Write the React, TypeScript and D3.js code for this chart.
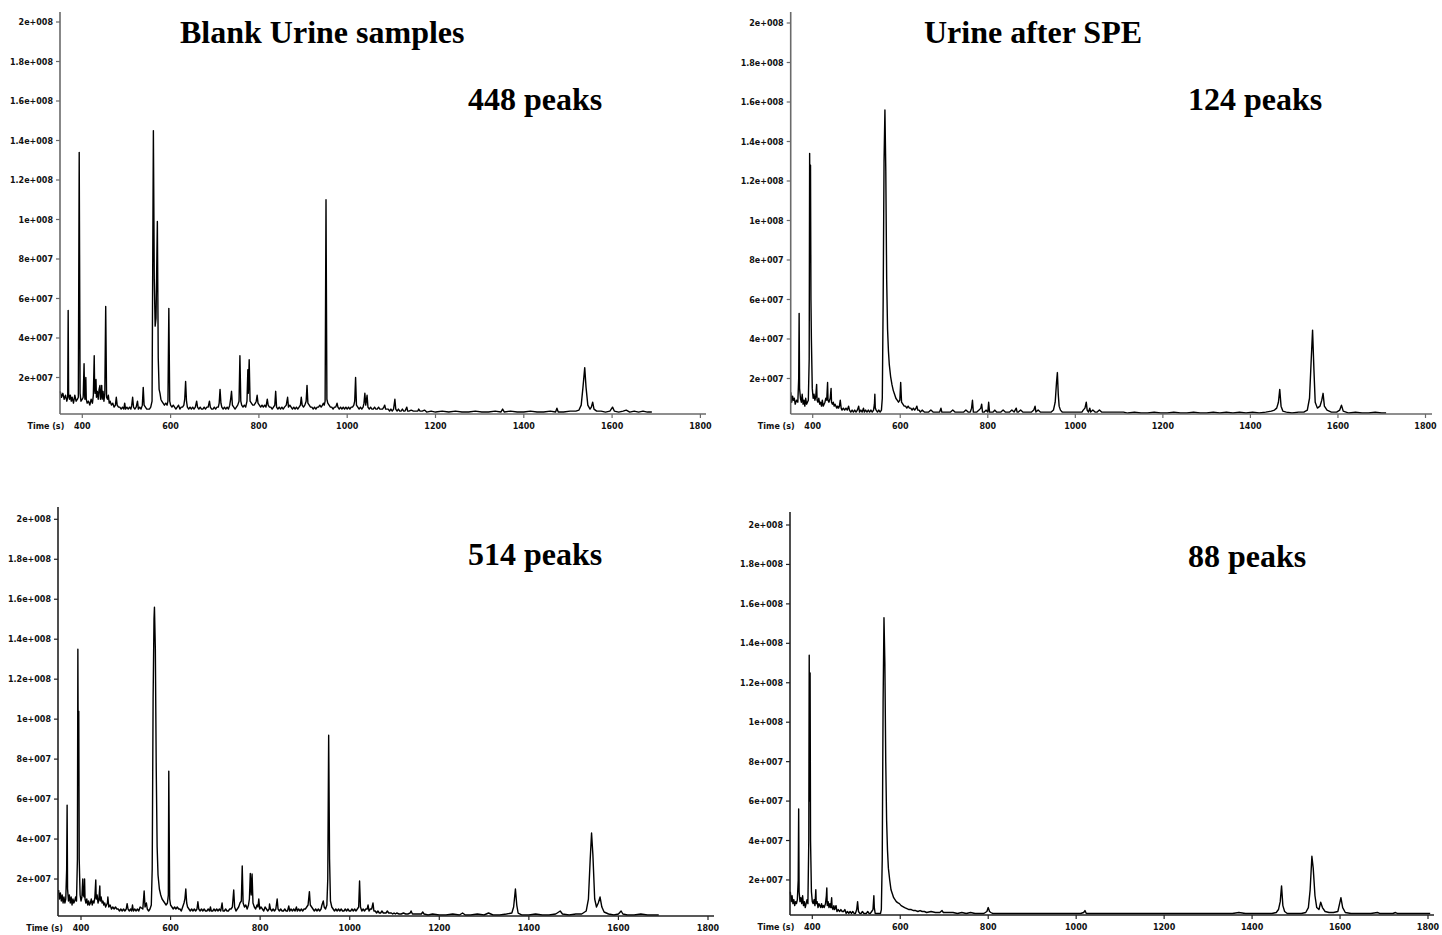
import React from 'react';
import * as d3 from 'd3';

type Pt = [number, number];

// Axis ticks
const X_TICKS = [400, 600, 800, 1000, 1200, 1400, 1600, 1800];
const Y_TICKS = [2e7, 4e7, 6e7, 8e7, 1e8, 1.2e8, 1.4e8, 1.6e8, 1.8e8, 2e8];
const Y_TICK_LABELS = ['2e+007', '4e+007', '6e+007', '8e+007', '1e+008', '1.2e+008', '1.4e+008', '1.6e+008', '1.8e+008', '2e+008'];

// Chromatogram traces: [time (s), intensity in units of 1e6]
const blankUrineA: Pt[] = [
  [350, 13], [353, 10], [356, 12], [359, 9], [362, 11], [365, 8], [367, 10], [368, 54], [369, 12], [371, 9], [373, 11], [375, 8], [377, 10], [380, 7], [383, 11], [386, 8], [389, 9], [391, 10], [393, 134], [395, 12], [397, 8], [400, 9], [402, 10], [404, 27], [405, 12], [406, 9], [408, 20], [409, 9], [411, 7], [414, 8], [417, 6], [420, 9], [423, 7], [425, 11], [427, 31], [428, 14], [429, 12], [431, 19], [432, 10], [434, 13], [436, 9], [438, 14], [440, 16], [441, 9], [443, 12], [444, 16], [445, 9], [447, 13], [449, 8], [451, 12], [453, 56], [455, 10], [457, 9], [459, 11], [461, 7], [463, 8], [466, 6], [469, 7], [472, 5], [475, 6], [477, 10], [479, 6], [482, 5], [485, 5], [488, 4], [491, 5], [494, 4], [496, 7], [498, 4], [501, 5], [504, 4], [507, 5], [510, 4], [512, 6], [514, 10], [516, 5], [519, 4], [522, 5], [525, 8], [527, 4], [530, 5], [533, 4], [536, 6], [538, 15], [540, 6], [543, 5], [546, 4], [549, 4], [552, 4], [555, 5], [558, 8], [561, 145], [563, 70], [565, 46], [567, 50], [570, 99], [572, 30], [574, 14], [576, 12], [578, 9], [580, 8], [583, 7], [586, 6], [589, 7], [592, 6], [594, 8], [596, 55], [598, 8], [600, 6], [603, 5], [606, 6], [609, 5], [612, 4], [615, 5], [618, 6], [621, 4], [624, 5], [627, 5], [630, 6], [632, 9], [634, 18], [636, 8], [638, 5], [641, 4], [644, 5], [647, 4], [650, 5], [653, 4], [656, 5], [659, 8], [661, 5], [664, 4], [667, 5], [670, 4], [673, 4], [676, 5], [679, 4], [682, 5], [685, 5], [688, 8], [690, 5], [693, 4], [696, 4], [699, 5], [702, 4], [705, 5], [708, 5], [710, 7], [712, 14], [714, 7], [716, 5], [719, 4], [722, 5], [725, 4], [728, 5], [731, 4], [734, 6], [736, 9], [738, 13], [740, 6], [743, 5], [746, 4], [749, 5], [752, 6], [755, 8], [757, 31], [759, 8], [761, 6], [764, 5], [767, 6], [770, 5], [773, 8], [775, 24], [776, 12], [778, 29], [780, 8], [783, 7], [786, 6], [789, 6], [792, 7], [794, 8], [796, 11], [798, 7], [801, 6], [804, 5], [807, 6], [810, 5], [813, 6], [816, 5], [819, 9], [821, 6], [824, 5], [827, 5], [830, 4], [833, 5], [836, 6], [838, 13], [840, 5], [843, 4], [846, 5], [849, 4], [852, 5], [855, 4], [858, 5], [862, 6], [865, 10], [867, 5], [870, 6], [873, 5], [876, 4], [879, 5], [882, 4], [885, 5], [888, 4], [891, 5], [894, 6], [896, 10], [898, 6], [901, 5], [904, 6], [907, 8], [909, 16], [911, 7], [914, 6], [917, 5], [920, 5], [923, 4], [926, 5], [929, 4], [932, 5], [935, 5], [938, 6], [941, 5], [944, 6], [946, 7], [948, 6], [950, 8], [952, 110], [954, 9], [956, 7], [959, 6], [962, 5], [965, 5], [968, 4], [971, 5], [974, 5], [977, 7], [979, 5], [982, 4], [985, 5], [988, 4], [991, 5], [994, 4], [997, 5], [1000, 4], [1003, 5], [1006, 4], [1009, 5], [1012, 5], [1015, 6], [1017, 8], [1019, 20], [1021, 6], [1024, 5], [1027, 4], [1030, 5], [1033, 4], [1036, 5], [1038, 7], [1040, 12], [1042, 6], [1045, 11], [1047, 5], [1050, 4], [1053, 5], [1056, 4], [1059, 4], [1062, 5], [1065, 4], [1068, 4], [1071, 5], [1074, 4], [1077, 4], [1080, 4], [1083, 5], [1085, 6], [1087, 4], [1090, 4], [1093, 4], [1096, 3], [1099, 4], [1102, 3], [1105, 4], [1108, 9], [1110, 4], [1113, 3], [1116, 4], [1119, 3], [1122, 3], [1125, 4], [1128, 3], [1131, 3], [1135, 5], [1137, 3], [1140, 3], [1145, 3.5], [1150, 3], [1155, 3], [1160, 3], [1162, 4], [1165, 3], [1170, 3], [1175, 3.5], [1180, 2.5], [1190, 3], [1200, 2.5], [1215, 3], [1230, 2.5], [1245, 3], [1260, 2.5], [1275, 2.5], [1290, 3], [1305, 2.5], [1320, 2.5], [1335, 3], [1348, 2.5], [1352, 4], [1356, 2.5], [1370, 3], [1385, 2.5], [1400, 2.5], [1415, 3], [1430, 2.5], [1445, 2.5], [1460, 3], [1472, 2.5], [1475, 4.5], [1478, 2.5], [1490, 2.5], [1505, 3], [1518, 3], [1525, 3.5], [1530, 6], [1534, 15], [1538, 25], [1541, 15], [1545, 6], [1550, 4], [1553, 5], [1556, 7.5], [1559, 4], [1565, 3], [1575, 3], [1585, 2.5], [1595, 3], [1601, 5], [1605, 3], [1615, 2.5], [1625, 3], [1632, 3.5], [1640, 2.5], [1650, 3], [1660, 2.5], [1670, 3], [1680, 2.5], [1690, 2.5],
];

const speUrineA: Pt[] = [
  [350, 13], [352, 8], [354, 11], [356, 9], [358, 10], [360, 7], [363, 9], [366, 8], [368, 20], [369, 53], [370, 15], [372, 10], [374, 8], [376, 12], [378, 7], [380, 9], [382, 6], [384, 10], [386, 7], [388, 8], [390, 9], [392, 30], [393, 134], [394, 100], [395, 128], [396, 60], [397, 40], [399, 15], [401, 10], [403, 12], [405, 9], [407, 11], [409, 17], [410, 9], [412, 8], [414, 10], [416, 7], [418, 8], [420, 6], [422, 9], [424, 6], [426, 7], [428, 8], [430, 10], [432, 9], [434, 18], [435, 9], [437, 8], [440, 10], [442, 15], [443, 8], [445, 7], [447, 8], [449, 6], [451, 7], [453, 6], [455, 5], [457, 6], [459, 5], [461, 6], [463, 9], [465, 5], [467, 4], [470, 5], [473, 4], [476, 5], [479, 4], [482, 6], [484, 4], [487, 3], [490, 4], [493, 3], [496, 4], [499, 3], [502, 4], [505, 6], [507, 3], [510, 4], [513, 3], [516, 5], [518, 3], [521, 4], [524, 3], [527, 4], [530, 3], [533, 4], [536, 3], [539, 4], [541, 7], [542, 12], [543, 5], [545, 4], [548, 3], [551, 4], [554, 3], [557, 4], [559, 10], [561, 60], [563, 130], [565, 156], [567, 125], [569, 70], [571, 45], [573, 34], [575, 27], [578, 21], [581, 17], [584, 14], [587, 12], [590, 10], [593, 9], [596, 8], [599, 9], [601, 18], [603, 8], [606, 7], [609, 6], [612, 6], [615, 5], [618, 6], [621, 5], [624, 5], [627, 4], [630, 5], [633, 4], [636, 5], [638, 6], [640, 4], [643, 4], [646, 3], [650, 4], [655, 3], [660, 3], [665, 3], [670, 4], [675, 3], [680, 3], [685, 3], [690, 3], [693, 5], [695, 3], [700, 3], [705, 3], [710, 3], [715, 3], [720, 4], [725, 3], [730, 3], [735, 3], [740, 3], [745, 3], [750, 4], [755, 3], [760, 3], [763, 5], [765, 9], [767, 3], [770, 3], [775, 3], [780, 4], [784, 5], [786, 7], [788, 3], [792, 3], [796, 4], [800, 3], [802, 8], [804, 3], [808, 3], [812, 3], [816, 4], [820, 3], [825, 3], [830, 3], [835, 4], [840, 3], [845, 3], [850, 3], [855, 4], [860, 3], [865, 5], [867, 3], [870, 3], [875, 4], [880, 3], [885, 3], [890, 3], [895, 3], [900, 3], [905, 4], [908, 6], [910, 3], [915, 4], [920, 3], [925, 3], [930, 3], [935, 3], [940, 3], [945, 3], [950, 4], [954, 8], [957, 18], [959, 23], [961, 12], [963, 6], [966, 4], [970, 3], [975, 3], [980, 3], [985, 3], [990, 3], [995, 3], [1000, 3], [1005, 3], [1010, 3], [1015, 3], [1018, 4], [1022, 5], [1025, 8], [1027, 4], [1030, 3], [1033, 5], [1035, 3], [1040, 4], [1045, 3], [1050, 3], [1055, 4], [1060, 3], [1065, 3], [1070, 3], [1080, 3], [1090, 3], [1100, 3], [1110, 3], [1120, 2.5], [1135, 3], [1150, 2.5], [1165, 2.5], [1180, 3], [1195, 2.5], [1210, 2.5], [1225, 3], [1240, 2.5], [1255, 2.5], [1270, 3], [1285, 2.5], [1300, 2.5], [1315, 3], [1330, 2.5], [1345, 3], [1360, 2.5], [1375, 3], [1390, 2.5], [1405, 3], [1420, 2.5], [1435, 3], [1448, 3.5], [1455, 4], [1460, 5], [1464, 8], [1467, 14.5], [1470, 6], [1474, 3.5], [1482, 3], [1495, 2.5], [1510, 3], [1522, 3], [1530, 4], [1535, 10], [1539, 30], [1542, 44.5], [1545, 25], [1548, 8], [1553, 5], [1559, 6], [1563, 9], [1566, 12.5], [1569, 6], [1575, 4], [1585, 3], [1597, 3], [1604, 4], [1608, 6.5], [1612, 3.5], [1625, 2.5], [1640, 3], [1655, 2.5], [1670, 2.5], [1685, 3], [1700, 2.5], [1710, 2.5],
];

const blankUrineB: Pt[] = [
  [350, 14.5], [352, 10], [354, 13], [356, 9], [358, 12], [360, 8], [362, 11], [364, 8], [366, 10], [368, 25], [369, 57], [370, 15], [372, 9], [374, 12], [376, 8], [378, 11], [380, 7], [382, 10], [384, 8], [386, 9], [388, 11], [390, 9], [392, 30], [393, 135], [394, 70], [395, 104], [396, 30], [398, 12], [400, 9], [402, 11], [404, 20], [405, 12], [407, 11], [408, 20], [409, 10], [411, 8], [413, 10], [415, 7], [417, 9], [419, 7], [421, 8], [423, 10], [425, 7], [427, 9], [429, 8], [431, 11], [433, 19.5], [434, 10], [436, 12], [438, 8], [440, 10], [442, 16.5], [443, 9], [445, 11], [447, 8], [449, 9], [451, 7], [453, 8], [455, 6], [457, 7], [459, 8], [460, 11], [462, 6], [465, 7], [468, 5], [471, 6], [474, 5], [477, 6], [480, 5], [483, 5], [486, 4], [489, 5], [492, 4], [495, 5], [498, 4], [501, 5], [503, 7.7], [505, 5], [508, 4], [511, 5], [513, 4], [515, 7], [517, 4], [520, 5], [523, 4], [526, 5], [529, 4], [532, 6], [538, 5], [541, 14], [543, 6], [546, 8], [548, 5], [551, 4], [554, 5], [557, 7], [559, 25], [561, 110], [563, 150], [564, 156], [566, 135], [568, 75], [570, 36], [572, 22], [575, 15], [578, 12], [581, 10], [584, 9], [587, 8], [590, 7], [593, 8], [595, 12], [596, 74], [598, 10], [600, 7], [603, 6], [606, 5], [609, 6], [612, 5], [615, 6], [618, 5], [621, 5], [624, 4], [627, 6], [630, 8], [632, 10], [634, 15], [636, 8], [638, 6], [641, 5], [644, 4], [647, 5], [650, 4], [653, 5], [656, 4], [659, 5], [661, 8.6], [663, 5], [666, 4], [669, 5], [672, 4], [675, 5], [678, 4], [681, 4], [684, 5], [687, 4], [689, 6], [691, 4], [694, 4], [697, 5], [700, 4], [703, 5], [706, 4], [709, 5], [712, 4], [715, 8], [717, 4], [720, 4], [723, 5], [726, 4], [729, 4], [732, 5], [735, 5], [738, 6], [741, 14.5], [743, 6], [746, 4], [749, 5], [752, 6], [755, 8], [758, 9], [760, 26.5], [762, 8], [765, 6], [768, 7], [771, 5], [774, 7], [776, 10], [778, 22.8], [780, 12], [782, 22.5], [784, 8], [787, 6], [790, 5], [793, 7], [795, 6], [797, 10], [799, 5], [802, 6], [805, 5], [808, 4], [811, 6], [814, 5], [817, 4], [820, 5], [821, 7.5], [823, 5], [826, 4], [829, 5], [832, 4], [835, 5], [838, 10], [840, 5], [843, 4], [846, 5], [849, 4], [852, 4], [855, 5], [858, 4], [861, 4], [864, 6.5], [866, 4], [869, 5], [872, 4], [875, 5], [878, 4], [881, 6], [883, 4], [886, 5], [889, 4], [892, 5], [895, 4], [898, 5], [901, 5], [904, 6], [907, 7], [910, 13.7], [912, 7], [915, 6], [918, 5], [921, 4], [924, 5], [927, 4], [930, 5], [933, 4], [936, 5], [938, 7], [941, 9], [943, 6], [946, 5], [949, 7], [951, 20], [953, 92], [955, 30], [957, 9], [960, 6], [963, 5], [966, 4], [969, 5], [972, 4], [975, 5], [978, 4], [981, 5], [984, 4], [987, 4], [990, 5], [993, 4], [996, 5], [999, 4], [1002, 4], [1005, 5], [1008, 4], [1011, 5], [1014, 4], [1017, 5], [1020, 6], [1022, 19], [1024, 6], [1027, 4], [1030, 5], [1033, 4], [1036, 5], [1039, 5], [1041, 7], [1043, 4], [1046, 5], [1049, 5], [1052, 8], [1054, 4], [1057, 4], [1060, 3], [1063, 4], [1066, 3], [1069, 3], [1072, 4], [1075, 3], [1078, 3], [1081, 3], [1084, 4], [1087, 3], [1090, 3], [1093, 3], [1096, 2.5], [1099, 3], [1102, 2.5], [1105, 3], [1110, 2.5], [1115, 2.5], [1120, 3], [1125, 2.5], [1130, 2.5], [1135, 3], [1137, 4], [1140, 2.5], [1145, 2.5], [1150, 2.5], [1155, 2.5], [1160, 2.5], [1163, 3.5], [1166, 2.5], [1175, 2], [1185, 2.5], [1200, 2], [1215, 2], [1230, 2.5], [1245, 2], [1252, 3], [1258, 2], [1270, 2], [1285, 2.5], [1300, 2], [1310, 3], [1320, 2], [1335, 2], [1350, 2.5], [1362, 3], [1366, 6], [1370, 15], [1373, 7], [1376, 3], [1385, 2], [1400, 2], [1415, 2.5], [1430, 2], [1445, 2], [1460, 2.5], [1470, 4], [1475, 2.5], [1490, 2], [1505, 2.5], [1518, 2.5], [1528, 4], [1533, 10], [1537, 30], [1540, 43], [1543, 32], [1547, 10], [1551, 6], [1555, 8], [1559, 11], [1563, 6], [1568, 3.5], [1578, 2.5], [1590, 2], [1600, 2.5], [1606, 4], [1610, 2.5], [1620, 2], [1635, 2], [1650, 2.5], [1665, 2], [1680, 2], [1690, 2],
];

const speUrineB: Pt[] = [
  [350, 14], [352, 9], [354, 12], [356, 8], [358, 10], [360, 7], [362, 9], [364, 8], [366, 10], [368, 20], [369, 56], [370, 14], [372, 9], [374, 11], [376, 8], [378, 12], [380, 7], [382, 9], [384, 6], [386, 8], [388, 10], [390, 8], [392, 40], [393, 134], [394, 60], [395, 125], [396, 40], [398, 14], [400, 9], [402, 8], [404, 10], [406, 7], [408, 15], [409, 8], [411, 9], [413, 6], [415, 8], [417, 7], [419, 6], [421, 8], [423, 6], [425, 7], [427, 6], [430, 8], [432, 12], [433, 16], [434, 7], [436, 9], [438, 6], [440, 8], [442, 6], [444, 11], [445, 6], [447, 5], [449, 7], [451, 5], [454, 7], [456, 4], [459, 5], [462, 4], [465, 5], [468, 4], [471, 4], [474, 5], [477, 3], [480, 4], [483, 3], [486, 4], [489, 3], [492, 4], [495, 3], [498, 3], [501, 5], [503, 9], [505, 4], [508, 3], [511, 3], [514, 4], [517, 3], [520, 3], [523, 3], [526, 4], [529, 3], [532, 3], [535, 4], [538, 5], [540, 12], [541, 6], [543, 3], [546, 3], [549, 3], [552, 3], [555, 3], [557, 5], [559, 30], [561, 110], [563, 153], [565, 130], [567, 80], [569, 50], [571, 35], [573, 26], [576, 20], [579, 15], [582, 13], [585, 11], [588, 10], [591, 9], [594, 8.5], [598, 8], [602, 7], [606, 6.5], [610, 6], [615, 5.5], [620, 5], [625, 5], [630, 4.5], [635, 4.5], [640, 4], [645, 4.5], [650, 4], [655, 4], [660, 3.5], [670, 4], [680, 3.5], [690, 3.5], [695, 4.5], [698, 3.5], [710, 3.5], [720, 3.5], [730, 3], [740, 3.5], [750, 3], [760, 3.5], [770, 3], [780, 3], [790, 3], [797, 4], [800, 6], [803, 4], [806, 3.5], [810, 3], [815, 3], [820, 3], [830, 3], [840, 3], [850, 3], [860, 3], [870, 3], [880, 3], [890, 3], [900, 3], [910, 3], [920, 3], [930, 3], [940, 3], [950, 3], [960, 3], [970, 3], [980, 3], [990, 3], [1000, 3], [1010, 3], [1017, 3.5], [1020, 4.5], [1023, 3], [1035, 3], [1050, 3], [1065, 3], [1080, 3], [1100, 3], [1120, 3], [1140, 3], [1160, 3], [1180, 3], [1200, 3], [1220, 3], [1240, 3], [1260, 3], [1280, 3], [1300, 3], [1320, 3], [1340, 3], [1355, 3], [1370, 3.5], [1385, 3], [1400, 3], [1415, 3], [1430, 3], [1445, 3], [1455, 3.5], [1460, 5], [1464, 9], [1467, 17], [1470, 7], [1474, 4], [1480, 3], [1490, 3], [1500, 3], [1512, 3], [1522, 3.5], [1528, 6], [1532, 15], [1536, 32], [1539, 26], [1543, 12], [1547, 6], [1552, 5], [1556, 8.7], [1560, 6], [1566, 4], [1575, 3.5], [1585, 3.5], [1595, 4], [1598, 7], [1602, 11], [1606, 6], [1612, 3.5], [1625, 3], [1640, 3], [1655, 3], [1670, 3], [1685, 3.5], [1690, 3], [1705, 3], [1720, 3], [1726, 3.5], [1730, 3], [1750, 3], [1770, 3], [1790, 3], [1805, 3],
];

interface PanelLayout {
  data: Pt[];
  x0: number; x1: number; // pixel of t=400 and t=1800
  yZero: number; yTop: number; // pixel of 0 and 2e8
  axisX: number; axisY: number; axisTop: number; axisRight: number;
  axisColor: string;
}

const PANELS: PanelLayout[] = [
  { data: blankUrineA, x0: 82.3, x1: 700.4, yZero: 417, yTop: 22, axisX: 60, axisY: 414, axisTop: 12, axisRight: 706, axisColor: '#6a6a6a' },
  { data: speUrineA, x0: 812.7, x1: 1425.5, yZero: 418, yTop: 23, axisX: 790.7, axisY: 414, axisTop: 12, axisRight: 1432, axisColor: '#6a6a6a' },
  { data: blankUrineB, x0: 81, x1: 708, yZero: 919, yTop: 519.3, axisX: 58, axisY: 916, axisTop: 507, axisRight: 714, axisColor: '#222' },
  { data: speUrineB, x0: 812.3, x1: 1428, yZero: 919.4, yTop: 525, axisX: 790, axisY: 915, axisTop: 512, axisRight: 1434, axisColor: '#222' },
];

const TITLES: { text: string; x: number; y: number }[] = [
  { text: 'Blank Urine samples', x: 180, y: 43 },
  { text: 'Urine after SPE', x: 924, y: 43 },
  { text: '448 peaks', x: 468, y: 110 },
  { text: '124 peaks', x: 1188, y: 110 },
  { text: '514 peaks', x: 468, y: 565 },
  { text: '88 peaks', x: 1188, y: 567 },
];

const TICK_FONT = '"DejaVu Sans", Verdana, sans-serif';

function Panel({ p }: { p: PanelLayout }) {
  const x = d3.scaleLinear().domain([400, 1800]).range([p.x0, p.x1]);
  const y = d3.scaleLinear().domain([0, 2e8]).range([p.yZero, p.yTop]);
  const line = d3
    .line<Pt>()
    .x((d) => x(d[0]))
    .y((d) => y(d[1] * 1e6));
  const axisColor = p.axisColor;
  return (
    <g>
      <path d={line(p.data) || ''} fill="none" stroke="#000" strokeWidth={1.4} strokeLinejoin="round" />
      <line x1={p.axisX} x2={p.axisX} y1={p.axisTop} y2={p.axisY} stroke={axisColor} strokeWidth={1.6} />
      <line x1={p.axisX} x2={p.axisRight} y1={p.axisY} y2={p.axisY} stroke={axisColor} strokeWidth={1.6} />
      {Y_TICKS.map((t, i) => (
        <g key={'y' + t}>
          <line x1={p.axisX - 4} x2={p.axisX} y1={y(t)} y2={y(t)} stroke={axisColor} strokeWidth={1.2} />
          <text x={p.axisX - 7} y={y(t) + 3} textAnchor="end" fontSize={8} fontWeight="bold" fontFamily={TICK_FONT} fill="#111">
            {Y_TICK_LABELS[i]}
          </text>
        </g>
      ))}
      {X_TICKS.map((t) => (
        <g key={'x' + t}>
          <line x1={x(t)} x2={x(t)} y1={p.axisY} y2={p.axisY + 4} stroke={axisColor} strokeWidth={1.2} />
          <text x={x(t)} y={p.axisY + 15} textAnchor="middle" fontSize={8} fontWeight="bold" fontFamily={TICK_FONT} fill="#111">
            {t}
          </text>
        </g>
      ))}
      <text x={x(400) - 18} y={p.axisY + 15} textAnchor="end" fontSize={8} fontWeight="bold" fontFamily={TICK_FONT} fill="#111">
        Time (s)
      </text>
    </g>
  );
}

export default function App() {
  return (
    <svg
      width={1442}
      height={935}
      style={{ position: 'absolute', left: 0, top: 0, background: '#fff' }}
    >
      <rect width={1442} height={935} fill="#fff" />
      {PANELS.map((p, i) => (
        <Panel key={i} p={p} />
      ))}
      {TITLES.map((t) => (
        <text key={t.text} x={t.x} y={t.y} fontSize={32} fontWeight="bold" fontFamily='"Liberation Serif", "Times New Roman", serif' fill="#000">
          {t.text}
        </text>
      ))}
    </svg>
  );
}
